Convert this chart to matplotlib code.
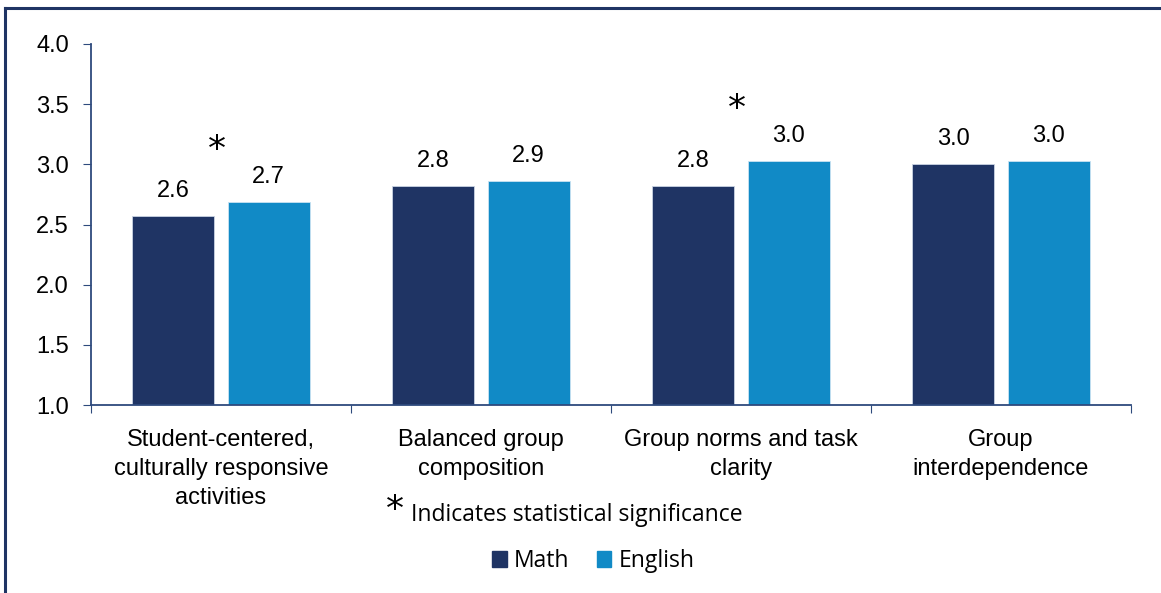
import numpy as np
import matplotlib.pyplot as plt
from matplotlib.lines import Line2D
from matplotlib.patches import Patch

# Data
categories = ["Student-centered,\nculturally responsive\nactivities",
              "Balanced group\ncomposition",
              "Group norms and task\nclarity",
              "Group\ninterdependence"]
math_vals = [2.57, 2.82, 2.82, 3.00]
english_vals = [2.69, 2.86, 3.03, 3.03]
significant = [True, False, True, False]
yticks = [1.0, 1.5, 2.0, 2.5, 3.0, 3.5, 4.0]

math_color = '#1f3464'
english_color = '#118ac6'
axis_color = '#2e4a7d'

fig = plt.figure(figsize=(11.61, 5.93), dpi=100)
ax = fig.add_axes([91 / 1161, 1 - 405 / 593, 1040 / 1161, 361 / 593])

x = np.arange(len(categories))
w = 0.315
off = 0.183
ax.bar(x - off, np.array(math_vals) - 1, w, bottom=1, color=math_color,
       edgecolor='#c9d3e3', linewidth=0.6, label='Math')
ax.bar(x + off, np.array(english_vals) - 1, w, bottom=1, color=english_color,
       edgecolor='#c9e3f2', linewidth=0.6, label='English')

for xs, vals in [(x - off, math_vals), (x + off, english_vals)]:
    for xi, v in zip(xs, vals):
        ax.annotate(f'{v:.1f}', (xi, v), xytext=(0, 18), textcoords='offset points',
                    ha='center', va='center', fontsize=17, family='Liberation Sans')

# significance stars
for xi, sig, v in zip(x, significant, english_vals):
    if sig:
        ax.annotate('*', (xi - 0.015, v), xytext=(0, 37), textcoords='offset points',
                    ha='center', va='center', fontsize=26, family='DejaVu Sans')

ax.set_xlim(-0.5, len(categories) - 0.5)
ax.set_ylim(1.0, 4.0)
ax.set_yticks(yticks)
ax.set_yticklabels([f'{t:.1f}' for t in yticks], fontsize=17, family='Liberation Sans')
ax.set_xticks(np.arange(len(categories) + 1) - 0.5)
ax.set_xticklabels([])
ax.set_xticks(x, minor=True)
ax.set_xticklabels(categories, minor=True, fontsize=17, family='Liberation Sans',
                   linespacing=1.42)
ax.tick_params(axis='x', which='minor', length=0, pad=17)
ax.tick_params(axis='x', which='major', length=6, color=axis_color, direction='out')
ax.tick_params(axis='y', length=6, color=axis_color, pad=10)

for s in ['top', 'right']:
    ax.spines[s].set_visible(False)
for s in ['left', 'bottom']:
    ax.spines[s].set_color(axis_color)
    ax.spines[s].set_linewidth(1.3)

# footnote
fig.text(386 / 1161, 1 - 510 / 593, '*', fontsize=26, va='center', ha='left',
         family='DejaVu Sans')
fig.text(411 / 1161, 1 - 515 / 593, 'Indicates statistical significance', fontsize=16.5,
         va='center', ha='left', family='Open Sans')

handles = [Patch(color=math_color), Patch(color=english_color)]
fig.legend(handles, ['Math', 'English'], loc='center', bbox_to_anchor=(593 / 1161, 1 - 561 / 593),
           ncol=2, frameon=False, prop={'family': 'Open Sans', 'size': 16.5},
           handlelength=0.65, handleheight=0.65, handletextpad=0.3, columnspacing=1.2)

# outer frame (top and left edges visible)
fig.add_artist(Line2D([5 / 1161, 5 / 1161], [0, 1 - 8 / 593], transform=fig.transFigure,
                      color='#1f3464', linewidth=2.2))
fig.add_artist(Line2D([5 / 1161, 1], [1 - 8 / 593, 1 - 8 / 593], transform=fig.transFigure,
                      color='#1f3464', linewidth=2.2))

fig.savefig('out.png', dpi=100)
